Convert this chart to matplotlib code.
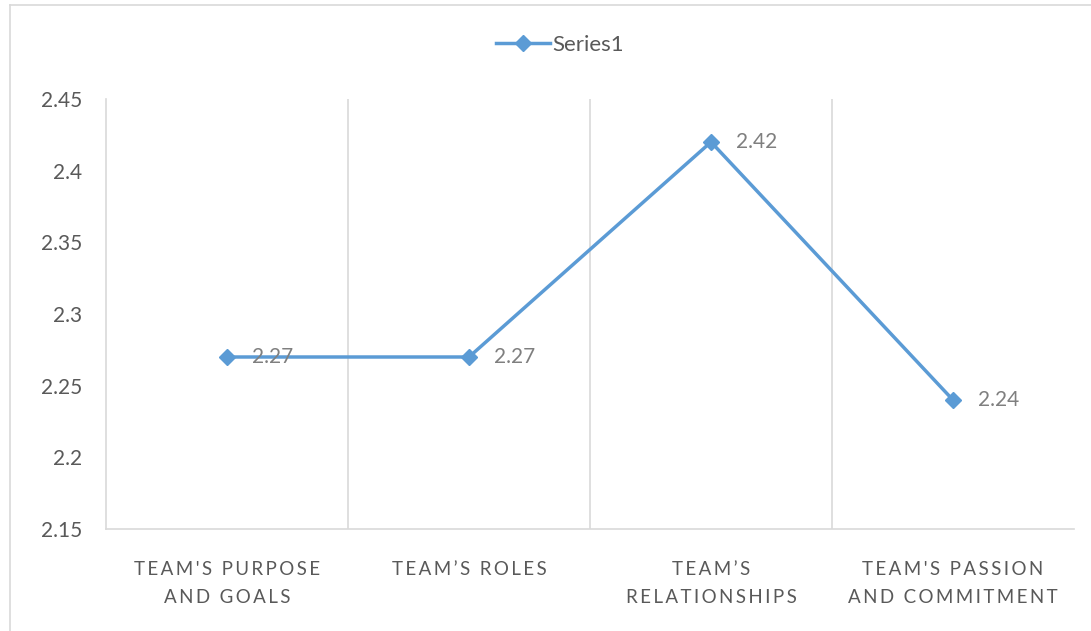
import matplotlib.pyplot as plt
from matplotlib.lines import Line2D

plt.rcParams['font.family'] = ['Lato', 'DejaVu Sans']

# --- data ---
categories = ["TEAM'S PURPOSE\nAND GOALS", "TEAM\u2019S ROLES",
              "TEAM\u2019S\nRELATIONSHIPS", "TEAM'S PASSION\nAND COMMITMENT"]
values = [2.27, 2.27, 2.42, 2.24]
yticks = [2.15, 2.2, 2.25, 2.3, 2.35, 2.4, 2.45]
ytick_labels = ['2.15', '2.2', '2.25', '2.3', '2.35', '2.4', '2.45']
series_name = 'Series1'

BLUE = '#5B9BD5'
GRID = '#D9D9D9'
TXT = '#595959'


def spaced(s):
    # rough stand-in for the wide letter spacing of the category labels
    return '\n'.join('\u2009'.join(line) for line in s.split('\n'))


fig = plt.figure(figsize=(10.91, 6.31), dpi=100)
ax = fig.add_axes([106 / 1091, 1 - 529 / 631, 968 / 1091, 430 / 631])

# chart frame
fig.add_artist(Line2D([10 / 1091, 10 / 1091], [0, 1 - 5 / 631], color=GRID, lw=1.2))
fig.add_artist(Line2D([10 / 1091, 1], [1 - 5 / 631, 1 - 5 / 631], color=GRID, lw=1.2))

xs = [i + 0.5 for i in range(len(values))]
ax.plot(xs, values, color=BLUE, lw=2.5, marker='D', markersize=8.5,
        markerfacecolor=BLUE, markeredgecolor=BLUE, label=series_name, zorder=3)

for x, v in zip(xs, values):
    ax.annotate(f'{v:.2f}', (x, v), xytext=(18, 0), textcoords='offset points',
                ha='left', va='center', fontsize=15, color='#7F7F7F', zorder=4)

ax.set_xlim(0, len(values))
ax.set_ylim(yticks[0], yticks[-1])
ax.set_yticks(yticks)
ax.set_yticklabels(ytick_labels)
ax.set_xticks(xs)
ax.set_xticklabels([spaced(c) for c in categories], fontsize=13.5,
                   color=TXT, linespacing=1.8)
ax.set_xticks(range(1, len(values)), minor=True)
ax.grid(True, axis='x', which='minor', color=GRID, lw=1.2)
ax.tick_params(axis='x', which='both', length=0, pad=23)
ax.tick_params(axis='y', length=0, pad=17, labelsize=15, labelcolor=TXT)

for s in ['top', 'right']:
    ax.spines[s].set_visible(False)
for s in ['left', 'bottom']:
    ax.spines[s].set_color(GRID)
    ax.spines[s].set_linewidth(1.2)

ax.legend(loc='center', bbox_to_anchor=(560 / 1091, 1 - 45 / 631), bbox_transform=fig.transFigure,
          frameon=False, fontsize=16, labelcolor=TXT, handlelength=2.4,
          handletextpad=0.1)

fig.savefig('out.png', dpi=100, facecolor='white')
